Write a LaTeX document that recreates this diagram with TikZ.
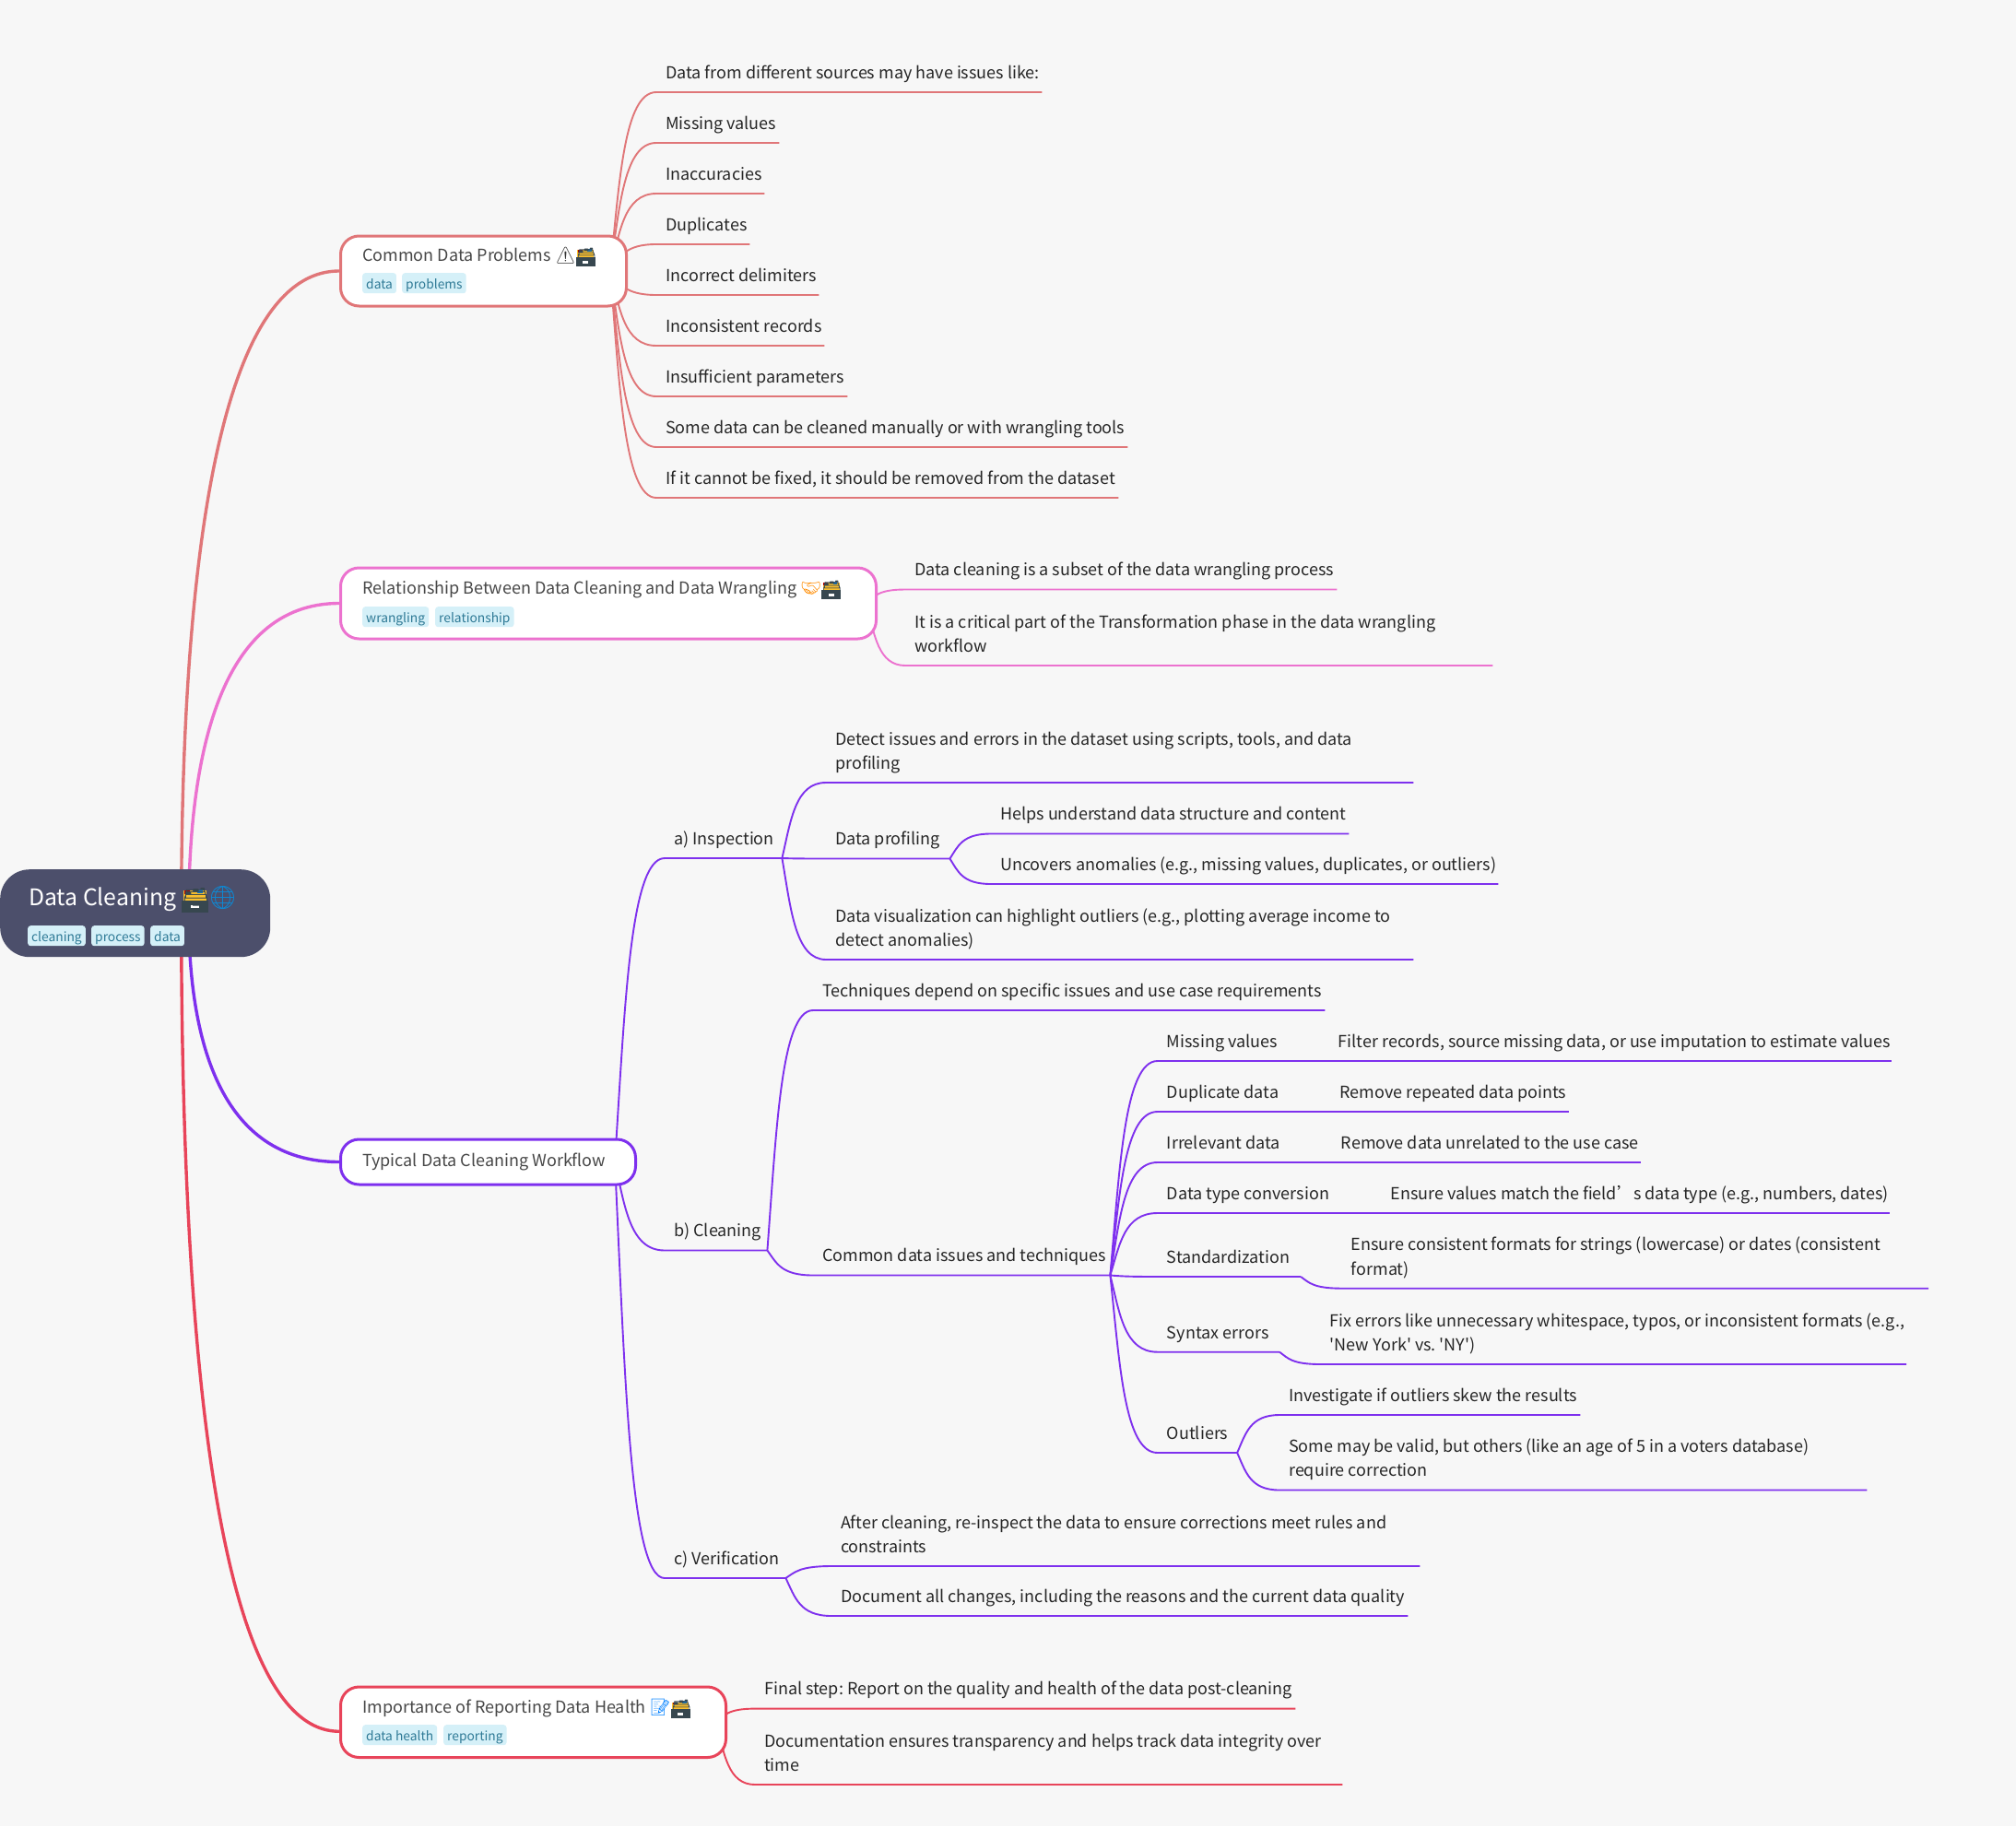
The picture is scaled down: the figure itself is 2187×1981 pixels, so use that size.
\documentclass[tikz,border=0pt]{standalone}
\usepackage{fontspec}
\usetikzlibrary{calc,backgrounds}
\newfontfamily\mapfont{Noto Sans CJK SC}
\newfontfamily\emojifont{Noto Emoji}
\definecolor{paper}{HTML}{F7F7F7}
\definecolor{rootcol}{HTML}{4C4F6B}
\definecolor{probcol}{HTML}{E07678}
\definecolor{relcol}{HTML}{EC72CF}
\definecolor{flowcol}{HTML}{7E30EE}
\definecolor{repcol}{HTML}{E8445A}
\definecolor{tagfill}{HTML}{D5F0F8}
\definecolor{tagtext}{HTML}{2F7A96}
\definecolor{cabinetbody}{HTML}{37474F}
\definecolor{cabinettop}{HTML}{FBC02D}
\newcommand{\cabinet}{\makebox[1.17em][l]{%
	\makebox[0pt][l]{\textcolor{cabinetbody}{\rule[-0.33em]{1.17em}{0.55em}}}%
	\makebox[0pt][l]{\hspace{0.42em}\textcolor{white}{\rule[-0.14em]{0.33em}{0.14em}}}%
	\makebox[0pt][l]{\hspace{0.08em}\textcolor{cabinettop}{\rule[0.22em]{1em}{0.42em}}}%
	\makebox[0pt][l]{\hspace{0.12em}\textcolor{red!70!black}{\rule[0.5em]{0.25em}{0.14em}}}%
	\makebox[0pt][l]{\hspace{0.7em}\textcolor{cyan!60!blue}{\rule[0.54em]{0.25em}{0.16em}}}%
	{\emojifont\textcolor{cabinetbody}{\raisebox{-0.1em}{🗃}}}}}
\newcommand{\globe}{{\emojifont\textcolor{cyan!70!blue}{🌐}}}
\newcommand{\warnsign}{{\emojifont\textcolor{black!80}{⚠}}}
\newcommand{\shake}{{\emojifont\textcolor{orange!90!yellow}{🤝}}}
\newcommand{\memo}{{\emojifont\textcolor{blue!50!cyan}{📝}}}
\tikzset{
	leaf/.style={anchor=south west,align=left,inner xsep=0pt,inner ysep=6.6pt,text=black!85,
		font=\mapfont\fontsize{18pt}{26.3pt}\selectfont\frenchspacing,
		execute at begin node={\leftskip=10pt\spaceskip=0pt\xspaceskip=0pt\hyphenpenalty=10000\relax},execute at end node=\strut},
	mainbox/.style={anchor=north west,draw,line width=3pt,fill=white,rounded corners=20pt},
	heading/.style={anchor=base west,inner sep=0pt,text=black!72,font=\mapfont\fontsize{18pt}{26.3pt}\selectfont},
	tag/.style={anchor=north west,fill=tagfill,text=tagtext,rounded corners=3pt,inner xsep=4pt,inner ysep=2.5pt,
		text height=15pt,text depth=2pt,font=\mapfont\fontsize{13.8pt}{20pt}\selectfont},
	thick link/.style={line width=3.4pt},
	thin link/.style={line width=1.9pt},
	fan/.style={to path={let \p1=(\tikztostart),\p2=(\tikztotarget),\n1={\x2-\x1},\n2={\y2-\y1} in
		.. controls (\x1+0.2*\n1,\y1+0.5*\n2) and (\x1+0.3*\n1,\y2) .. (\tikztotarget)}},
	rootfan/.style={to path={let \p1=(\tikztostart),\p2=(\tikztotarget),\n1={\x2-\x1},\n2={\y2-\y1} in
		.. controls (\x1,\y1+0.5*\n2) and (\x1+0.2*\n1,\y2) .. (\tikztotarget)}}
}
\begin{document}
\begin{tikzpicture}[x=1pt,y=-1pt]
	\useasboundingbox (0,0) rectangle (2187,1981);
	% root
	\node[anchor=north west,fill=rootcol,rounded corners=32pt,minimum width=293pt,minimum height=95pt] (root) at (0,943) {};
	\node[anchor=base west,inner sep=0pt,text=white,font=\mapfont\fontsize{24.8pt}{32pt}\selectfont] (roottitle) at (31,982) {Data Cleaning \cabinet\globe};
	\node[tag] (roottag1) at (30,1004) {cleaning};
	\node[tag] (roottag2) at (99,1004) {process};
	\node[tag] (roottag3) at (163,1004) {data};
	% main topics
	\node[mainbox,draw=probcol,minimum width=310pt,minimum height=76pt] (prob) at (368,254.5) {};
	\node[heading] (probtitle) at (393,283) {Common Data Problems \warnsign\cabinet};
	\node[tag] (probtag1) at (393,296) {data};
	\node[tag] (probtag2) at (436,296) {problems};
	\node[mainbox,draw=relcol,minimum width=581pt,minimum height=77pt] (rel) at (368,614.5) {};
	\node[heading] (reltitle) at (393,644) {Relationship Between Data Cleaning and Data Wrangling \shake\cabinet};
	\node[tag] (reltag1) at (393,658) {wrangling};
	\node[tag] (reltag2) at (472,658) {relationship};
	\node[mainbox,draw=flowcol,minimum width=320pt,minimum height=49pt] (flow) at (368,1234.5) {};
	\node[heading] (flowtitle) at (393,1265) {Typical Data Cleaning Workflow};
	\node[mainbox,draw=repcol,minimum width=418pt,minimum height=76.5pt] (rep) at (368,1828.5) {};
	\node[heading] (reptitle) at (393,1858) {Importance of Reporting Data Health \memo\cabinet};
	\node[tag] (reptag1) at (393,1871) {data health};
	\node[tag] (reptag2) at (481,1871) {reporting};
	% leaves
	\foreach \name/\ypos/\xend/\txt in {
		prob1/100/1130/{Data from different sources may have issues like:},
		prob2/155/845/{Missing values},
		prob3/210/829/{Inaccuracies},
		prob4/265/813/{Duplicates},
		prob5/320/888/{Incorrect delimiters},
		prob6/375/894/{Inconsistent records},
		prob7/430/919/{Insufficient parameters},
		prob8/485/1223/{Some data can be cleaned manually or with wrangling tools},
		prob9/540/1213/{If it cannot be fixed, it should be removed from the dataset}}{
		\node[leaf,text width=\xend pt-712pt] (\name) at (712,\ypos) {\txt};
	}
	\node[leaf,text width=468pt] (rel1) at (982,639.5) {Data cleaning is a subset of the data wrangling process};
	\node[leaf,text width=637pt] (rel2) at (982,722) {It is a critical part of the Transformation phase in the data wrangling\\workflow};
	\node[leaf,text width=127pt] (insp) at (721,931) {a) Inspection};
	\node[leaf,text width=111pt] (clean) at (721,1356.5) {b) Cleaning};
	\node[leaf,text width=131pt] (verif) at (721,1712) {c) Verification};
	\node[leaf,text width=637pt] (insp1) at (896,849) {Detect issues and errors in the dataset using scripts, tools, and data\\profiling};
	\node[leaf,text width=134pt] (insp2) at (896,931.5) {Data profiling};
	\node[leaf,text width=637pt] (insp3) at (896,1041) {Data visualization can highlight outliers (e.g., plotting average income to\\detect anomalies)};
	\node[leaf,text width=388pt] (prof1) at (1075,904.5) {Helps understand data structure and content};
	\node[leaf,text width=550pt] (prof2) at (1075,959) {Uncovers anomalies (e.g., missing values, duplicates, or outliers)};
	\node[leaf,text width=555pt] (clean1) at (882,1096) {Techniques depend on specific issues and use case requirements};
	\node[leaf,text width=322pt] (clean2) at (882,1383.5) {Common data issues and techniques};
	\node[leaf,text width=142pt] (iss1) at (1255.7,1151) {Missing values};
	\node[leaf,text width=142pt] (iss2) at (1255.7,1206) {Duplicate data};
	\node[leaf,text width=147pt] (iss3) at (1255.7,1261) {Irrelevant data};
	\node[leaf,text width=197pt] (iss4) at (1255.7,1316) {Data type conversion};
	\node[leaf,text width=155pt] (iss5) at (1255.7,1385) {Standardization};
	\node[leaf,text width=132pt] (iss6) at (1255.7,1466.7) {Syntax errors};
	\node[leaf,text width=86pt] (iss7) at (1255.7,1576) {Outliers};
	\node[leaf,text width=610pt] (fix1) at (1441.7,1151) {Filter records, source missing data, or use imputation to estimate values};
	\node[leaf,text width=258pt] (fix2) at (1443.3,1206) {Remove repeated data points};
	\node[leaf,text width=335pt] (fix3) at (1444.7,1261) {Remove data unrelated to the use case};
	\node[leaf,text width=551pt] (fix4) at (1498.7,1316) {Ensure values match the field’s data type (e.g., numbers, dates)};
	\node[leaf,text width=636pt] (fix5) at (1455.7,1397.7) {Ensure consistent formats for strings (lowercase) or dates (consistent\\format)};
	\node[leaf,text width=635pt] (fix6) at (1432.7,1480) {Fix errors like unnecessary whitespace, typos, or inconsistent formats (e.g.,\\'New York' vs. 'NY')};
	\node[leaf,text width=326pt] (out1) at (1388,1535) {Investigate if outliers skew the results};
	\node[leaf,text width=637pt] (out2) at (1388,1616.5) {Some may be valid, but others (like an age of 5 in a voters database)\\require correction};
	\node[leaf,text width=638pt] (ver1) at (902,1699) {After cleaning, re-inspect the data to ensure corrections meet rules and\\constraints};
	\node[leaf,text width=625pt] (ver2) at (902,1753) {Document all changes, including the reasons and the current data quality};
	\node[leaf,text width=586pt] (rep1) at (819,1853.6) {Final step: Report on the quality and health of the data post-cleaning};
	\node[leaf,text width=637pt] (rep2) at (819,1936) {Documentation ensures transparency and helps track data integrity over\\time};
	% links
	\begin{scope}[on background layer]
		\fill[paper] (0,0) rectangle (2187,1981);
		\draw[thick link,probcol] ([xshift=50pt]root.center) to[rootfan] (prob.west);
		\draw[thick link,relcol] ([xshift=58pt]root.center) to[rootfan] (rel.west);
		\draw[thick link,flowcol] ([xshift=58pt]root.center) to[rootfan] (flow.west);
		\draw[thick link,repcol] ([xshift=50pt]root.center) to[rootfan] ([yshift=-10pt]rep.west);
		\foreach \name in {prob1,prob2,prob3,prob4,prob5,prob6,prob7,prob8,prob9}{
			\draw[thin link,probcol] ([xshift=-19pt]prob.east) to[fan] (\name.south west) -- (\name.south east);
		}
		\foreach \name in {rel1,rel2}{
			\draw[thin link,relcol] ([xshift=-12pt]rel.east) to[fan] (\name.south west) -- (\name.south east);
		}
		\foreach \name in {rep1,rep2}{
			\draw[thin link,repcol] ([xshift=-12pt]rep.east) to[fan] (\name.south west) -- (\name.south east);
		}
		\begin{scope}[thin link,flowcol]
			\foreach \name in {insp,clean,verif}{
				\draw ([xshift=-24pt]flow.east) to[fan] (\name.south west) -- (\name.south east);
			}
			\foreach \name in {insp1,insp2,insp3}{
				\draw (insp.south east) to[fan] (\name.south west) -- (\name.south east);
			}
			\foreach \name in {prof1,prof2}{
				\draw (insp2.south east) to[fan] (\name.south west) -- (\name.south east);
			}
			\foreach \name in {clean1,clean2}{
				\draw (clean.south east) to[fan] (\name.south west) -- (\name.south east);
			}
			\foreach \name in {ver1,ver2}{
				\draw (verif.south east) to[fan] (\name.south west) -- (\name.south east);
			}
			\foreach \name in {iss1,iss2,iss3,iss4,iss5,iss6,iss7}{
				\draw (clean2.south east) to[fan] (\name.south west) -- (\name.south east);
			}
			\foreach \name/\child in {iss1/fix1,iss2/fix2,iss3/fix3,iss4/fix4,iss5/fix5,iss6/fix6,iss7/out1,iss7/out2}{
				\draw (\name.south east) to[fan] (\child.south west) -- (\child.south east);
			}
		\end{scope}
	\end{scope}
\end{tikzpicture}
\end{document}
